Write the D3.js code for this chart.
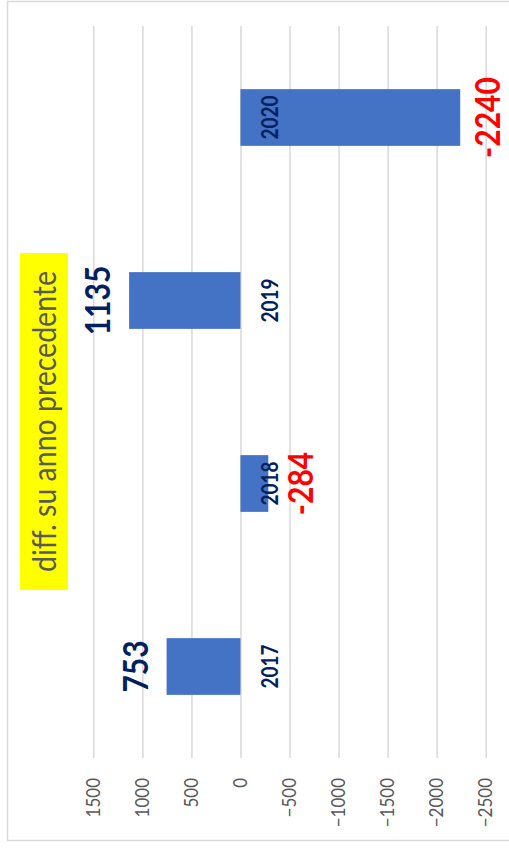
<!DOCTYPE html>
<html>
<head>
<meta charset="utf-8">
<script src="https://cdn.jsdelivr.net/npm/d3@7"></script>
<style>
  body { margin: 0; background: #fff; }
  svg { display: block; font-family: Lato, "Open Sans", sans-serif; }
</style>
</head>
<body>
<div id="chart"></div>
<script>

var years = ["2017", "2018", "2019", "2020"];
var diffs = [753, -284, 1135, -2240];
var valueTicks = [1500, 1000, 500, 0, -500, -1000, -1500, -2000, -2500];
var boxTitle = "diff. su anno precedente";

var W = 509, H = 858;
var stretch = 1.15; //the original picture is a bit wider than tall, glyphs look fat

var svg = d3.select("#chart")
	.append("svg")
	.attr("width", W)
	.attr("height", H);

//outer chart border
svg.append("rect")
	.attr("x", 7.5)
	.attr("y", 1.5)
	.attr("width", 510)
	.attr("height", 839)
	.attr("fill", "none")
	.attr("stroke", "#d9d9d9")
	.attr("stroke-width", 1.5);

//whole chart is drawn as a normal column chart then turned -90deg
var g = svg.append("g")
	.attr("transform", "translate(0," + H + ") rotate(-90)");

var xScale = d3.scaleBand()
	.domain(years)
	.range([100, 832])
	.paddingInner(0.69)
	.paddingOuter(0.345);

var yScale = d3.scaleLinear()
	.domain([1500, -2500])
	.range([93.3, 485.7]);

//grid + tick labels
var yAxis = d3.axisLeft(yScale)
	.tickValues(valueTicks)
	.tickSize(-(832 - 100))
	.tickPadding(20)
	.tickFormat(d3.format("d"));

var axisG = g.append("g")
	.attr("class", "yAxis")
	.attr("transform", "translate(100,0)")
	.call(yAxis);

axisG.select(".domain").remove();
axisG.selectAll(".tick line")
	.attr("stroke", "#d9d9d9")
	.attr("stroke-width", 1.5);
axisG.selectAll(".tick text")
	.attr("fill", "#595959")
	.attr("font-size", 17)
	.attr("font-family", "Lato, sans-serif")
	.attr("transform", "translate(-20,0) scale(1," + stretch + ") translate(20,0)");

//bars
g.selectAll("rect.bar")
	.data(years)
	.enter()
	.append("rect")
	.attr("class", "bar")
	.attr("x", d => xScale(d))
	.attr("width", xScale.bandwidth())
	.attr("y", (d, i) => Math.min(yScale(diffs[i]), yScale(0)))
	.attr("height", (d, i) => Math.abs(yScale(diffs[i]) - yScale(0)))
	.attr("fill", "#4472c4");

function placeText(sel, fx, fy) {

	sel.attr("transform", function(d, i) {

		return "translate(" + fx(d, i) + "," + fy(d, i) + ") scale(1," + stretch + ")";

	});

}

//category labels sit just under the zero line
g.selectAll("text.cat")
	.data(years)
	.enter()
	.append("text")
	.attr("class", "cat")
	.call(placeText, d => xScale(d) + xScale.bandwidth() / 2, d => yScale(0) + 38)
	.attr("text-anchor", "middle")
	.attr("font-size", 19)
	.attr("font-weight", "bold")
	.attr("fill", "#002060")
	.text(d => d);

//value labels, outside end (clamped to the plot for the big one)
g.selectAll("text.val")
	.data(years)
	.enter()
	.append("text")
	.attr("class", "val")
	.call(placeText, d => xScale(d) + xScale.bandwidth() / 2, function(d, i) {

		var v = diffs[i];
		if (v >= 0) {
			return yScale(v) - 19;
		}
		return Math.min(yScale(v) + 45, 500);

	})
	.attr("text-anchor", "middle")
	.attr("font-size", 30)
	.attr("font-weight", "bold")
	.attr("fill", (d, i) => diffs[i] >= 0 ? "#002060" : "#ff0000")
	.text((d, i) => diffs[i]);

//yellow text box
var box = g.append("g")
	.attr("class", "titleBox");

box.append("rect")
	.attr("x", 268)
	.attr("y", 20)
	.attr("width", 337)
	.attr("height", 48)
	.attr("fill", "#ffff00");

box.append("text")
	.attr("transform", "translate(" + (268 + 337 / 2) + ",56) scale(1," + stretch + ")")
	.attr("text-anchor", "middle")
	.attr("font-size", 28.5)
	.attr("fill", "#595959")
	.text(boxTitle);

</script>
</body>
</html>
